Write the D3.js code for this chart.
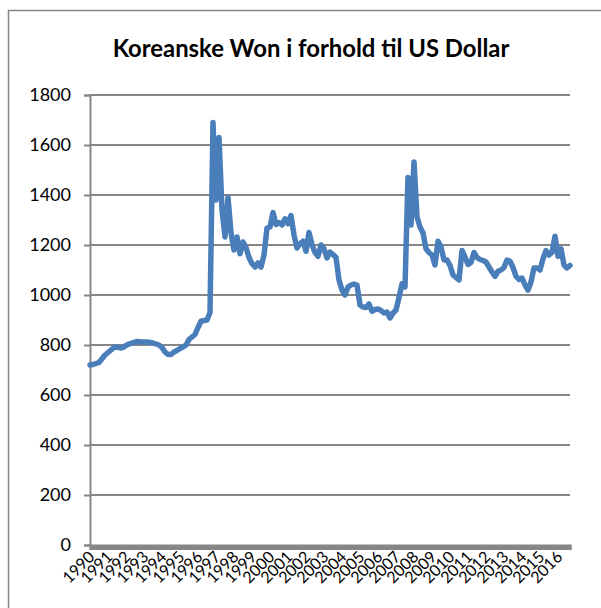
<!DOCTYPE html>
<html>
<head>
<meta charset="utf-8">
<script src="https://cdn.jsdelivr.net/npm/d3@7"></script>
<style>
  body { margin: 0; background: #fff; }
  svg { display: block; }
</style>
</head>
<body>
<svg id="svg"></svg>
<script>
const title = "Koreanske Won i forhold til US Dollar";

// first year on the axis, one value every second month
const startYear = 1990;
const stepsPerYear = 6;

const wonPerDollar = [
  720, 722, 726, 730, 745, 760, 770, 780, 790, 792,
  788, 790, 798, 804, 808, 812, 814, 812, 812, 812,
  810, 808, 804, 800, 790, 772, 762, 762, 772, 778,
  786, 792, 800, 822, 832, 842, 870, 895, 898, 900,
  930, 1690, 1380, 1630, 1340, 1232, 1390, 1250, 1180, 1232,
  1165, 1212, 1190, 1150, 1125, 1112, 1128, 1112, 1160, 1268,
  1272, 1330, 1282, 1290, 1280, 1305, 1285, 1318, 1240, 1188,
  1205, 1215, 1175, 1250, 1200, 1170, 1155, 1200, 1185, 1148,
  1172, 1162, 1150, 1060, 1020, 1000, 1032, 1040, 1044, 1040,
  960, 952, 950, 964, 935, 942, 944, 938, 928, 932,
  908, 928, 940, 990, 1045, 1032, 1470, 1280, 1532, 1312,
  1272, 1248, 1185, 1170, 1160, 1120, 1215, 1192, 1140, 1140,
  1118, 1080, 1070, 1060, 1178, 1152, 1122, 1130, 1170, 1150,
  1142, 1138, 1132, 1112, 1092, 1075, 1095, 1100, 1110, 1140,
  1135, 1110, 1075, 1062, 1068, 1040, 1020, 1052, 1108, 1108,
  1100, 1145, 1178, 1160, 1170, 1235, 1155, 1185, 1120, 1108,
  1118
];

const yearLabels = d3.range(1990, 2017);
const yTicks = [0, 200, 400, 600, 800, 1000, 1200, 1400, 1600, 1800];

const data = wonPerDollar.map((v, i) => ({t: startYear + i / stepsPerYear, v: v}));

let layout = {"width": 601,
              "height": 608,
              "marginTop": 95,
              "marginRight": 31,
              "marginBottom": 63,
              "marginLeft": 90};

const grey = "#868686";

let svgElement = d3.select("#svg")
  .attr("width", layout.width)
  .attr("height", layout.height);

// chart frame (runs off the right and bottom edges)
svgElement.append("rect")
  .attr("x", 8.5).attr("y", 10.5)
  .attr("width", 700).attr("height", 700)
  .attr("fill", "none").attr("stroke", grey).attr("stroke-width", 1.5);

let xScale = d3.scaleLinear()
  .domain([startYear, data[data.length - 1].t])
  .range([layout.marginLeft, layout.width - layout.marginRight]);

let yScale = d3.scaleLinear()
  .domain([0, 1800])
  .range([layout.height - layout.marginBottom, layout.marginTop]);

// gridlines
svgElement.append("g")
  .selectAll("line")
  .data(yTicks.filter(d => d > 0))
  .join("line")
  .attr("x1", layout.marginLeft)
  .attr("x2", layout.width - layout.marginRight)
  .attr("y1", d => yScale(d))
  .attr("y2", d => yScale(d))
  .attr("stroke", grey)
  .attr("stroke-width", 2);

// y axis
let yAxis = svgElement.append("g")
  .attr("transform", `translate(${layout.marginLeft}, 0)`)
  .call(d3.axisLeft(yScale).tickValues(yTicks).tickSize(6).tickPadding(13).tickFormat(d3.format("d")));
yAxis.selectAll("line, path").attr("stroke", grey).attr("stroke-width", 2);
yAxis.selectAll("text")
  .attr("font-family", "Lato, 'Open Sans', sans-serif")
  .attr("font-size", 18)
  .attr("fill", "#000");

// x axis: one tick per month gives the dense bar
const monthTicks = d3.range(0, (data.length - 1) * 2 + 1).map(m => startYear + m / 12);
let xAxis = svgElement.append("g")
  .attr("transform", `translate(0, ${yScale(0)})`)
  .call(d3.axisBottom(xScale).tickValues(monthTicks).tickSize(5).tickFormat(""));
xAxis.selectAll("line, path").attr("stroke", grey).attr("stroke-width", 2);

let xLabels = svgElement.append("g")
  .attr("transform", `translate(0, ${yScale(0)})`)
  .call(d3.axisBottom(xScale).tickValues(yearLabels).tickSize(0).tickFormat(d3.format("d")));
xLabels.select(".domain").remove();
xLabels.selectAll("text")
  .attr("font-family", "Lato, 'Open Sans', sans-serif")
  .attr("font-size", 16)
  .attr("fill", "#000")
  .attr("text-anchor", "end")
  .attr("dy", "0.35em")
  .attr("y", 0)
  .attr("transform", "translate(1, 9) rotate(-45)");

// series
svgElement.append("path")
  .datum(data)
  .attr("fill", "none")
  .attr("stroke", "#4a7ebb")
  .attr("stroke-width", 5.5)
  .attr("stroke-linejoin", "round")
  .attr("stroke-linecap", "round")
  .attr("d", d3.line().x(d => xScale(d.t)).y(d => yScale(d.v)));

// title
let titleText = svgElement.append("text")
  .attr("x", 311)
  .attr("y", 57)
  .attr("text-anchor", "middle")
  .attr("font-family", "Lato, 'Open Sans', sans-serif")
  .attr("font-weight", "bold")
  .attr("font-size", 21)
  .attr("fill", "#000")
  .text(title);
const w = titleText.node().getComputedTextLength();
titleText.attr("font-size", 21 * 397 / w);
</script>
</body>
</html>
